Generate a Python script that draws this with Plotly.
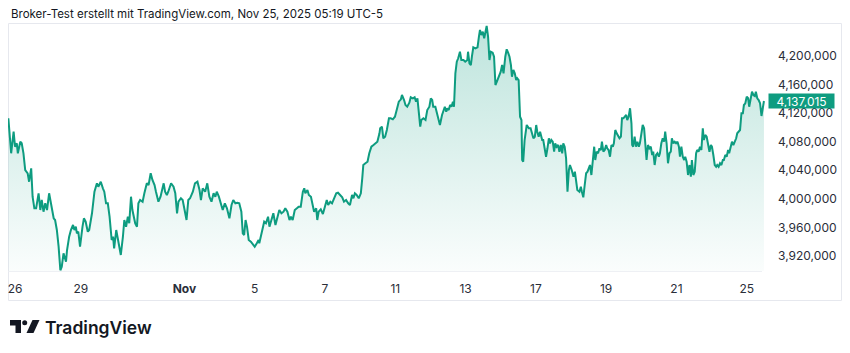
import plotly.graph_objects as go

# ---- data (x: trading days relative to Mon Nov 3 session, y: price in thousands) ----
t_days = [
    -5.01, -4.93, -4.86, -4.82, -4.77, -4.74, -4.67, -4.63, -4.58, -4.53,
    -4.46, -4.42, -4.36, -4.32, -4.27, -4.22, -4.15, -4.10, -4.06, -4.01,
    -3.96, -3.91, -3.85, -3.77, -3.72, -3.68, -3.63, -3.58, -3.53, -3.49,
    -3.44, -3.37, -3.34, -3.28, -3.23, -3.17, -3.13, -3.09, -3.06, -3.02,
    -2.97, -2.90, -2.86, -2.81, -2.75, -2.71, -2.63, -2.56, -2.49, -2.45,
    -2.38, -2.32, -2.28, -2.23, -2.18, -2.13, -2.07, -2.03, -2.00, -1.94,
    -1.89, -1.81, -1.75, -1.71, -1.66, -1.61, -1.57, -1.52, -1.48, -1.40,
    -1.35, -1.31, -1.26, -1.19, -1.14, -1.07, -1.02, -0.96, -0.91, -0.85,
    -0.81, -0.74, -0.68, -0.64, -0.59, -0.55, -0.50, -0.46, -0.38, -0.31,
    -0.26, -0.21, -0.17, -0.10, -0.05, 0.06, 0.11, 0.16, 0.24,
    0.30, 0.37, 0.43, 0.47, 0.52, 0.59, 0.65, 0.71, 0.77, 0.83, 0.88, 0.92, 0.98,
    1.04, 1.09, 1.15, 1.21, 1.28, 1.34, 1.39, 1.45, 1.51, 1.56, 1.62, 1.66, 1.70, 1.74, 1.78, 1.83, 1.89, 1.95,
    2.00, 2.06, 2.11, 2.13, 2.19, 2.23, 2.27, 2.32, 2.38, 2.42, 2.48, 2.53, 2.59, 2.65, 2.70, 2.76, 2.82, 2.87, 2.93, 2.99,
    3.03, 3.08, 3.14, 3.20, 3.25, 3.31, 3.37, 3.41, 3.44, 3.50, 3.54, 3.60, 3.63, 3.69, 3.75, 3.78, 3.82, 3.88, 3.94, 3.99,
    4.05, 4.09, 4.15, 4.20, 4.26, 4.32, 4.37, 4.43, 4.49, 4.54, 4.60, 4.66, 4.71, 4.77, 4.81, 4.85, 4.90, 4.96,
    5.02, 5.06, 5.09, 5.15, 5.21, 5.26, 5.32, 5.38, 5.43, 5.49, 5.55,
    5.57, 5.62, 5.66, 5.71, 5.76, 5.82, 5.87, 5.93, 5.99,
    6.04, 6.10, 6.16, 6.19, 6.25, 6.29, 6.34, 6.40, 6.44, 6.50, 6.55, 6.59, 6.63, 6.67, 6.71, 6.74, 6.80, 6.86, 6.91, 6.97,
    7.01, 7.05, 7.08, 7.14, 7.18, 7.24, 7.27, 7.33, 7.37, 7.41, 7.45, 7.48, 7.52, 7.56, 7.60, 7.64, 7.67, 7.71, 7.75, 7.79, 7.84, 7.88, 7.94, 7.99,
    8.05, 8.07, 8.11, 8.15, 8.18, 8.22, 8.28, 8.34, 8.38, 8.41, 8.45, 8.49, 8.53, 8.56, 8.60, 8.64, 8.68, 8.72, 8.77, 8.81, 8.85, 8.89, 8.94,
    9.00, 9.04, 9.08, 9.13, 9.17, 9.21, 9.25, 9.29, 9.32, 9.36, 9.40, 9.44, 9.47, 9.51, 9.55, 9.59, 9.61, 9.64, 9.68, 9.74, 9.80, 9.85, 9.89, 9.93, 9.97,
    10.01, 10.04, 10.08, 10.12, 10.18, 10.21, 10.25, 10.29, 10.33, 10.37, 10.40, 10.44, 10.48, 10.52, 10.55, 10.59, 10.63, 10.67, 10.71, 10.75, 10.78, 10.82, 10.86, 10.90, 10.94, 10.97,
    11.02, 11.07, 11.11, 11.14, 11.18, 11.24, 11.28, 11.31, 11.35, 11.39, 11.43, 11.47, 11.50, 11.54, 11.58, 11.62, 11.66, 11.69, 11.73, 11.77, 11.81, 11.85, 11.88, 11.92, 11.96,
    12.00, 12.03, 12.07, 12.11, 12.15, 12.19, 12.22, 12.26, 12.30, 12.34, 12.38, 12.42, 12.45, 12.49, 12.53, 12.57, 12.60, 12.64, 12.68, 12.72, 12.74, 12.77, 12.81, 12.85, 12.89, 12.93, 12.96,
    13.00, 13.04, 13.08, 13.11, 13.15, 13.19, 13.23, 13.27, 13.31, 13.34, 13.38, 13.42, 13.46, 13.50, 13.53, 13.57, 13.61, 13.65, 13.68, 13.72, 13.76, 13.80, 13.84, 13.87, 13.91, 13.95, 13.99,
    14.03, 14.07, 14.10, 14.14, 14.18, 14.22, 14.25, 14.29, 14.33, 14.37, 14.41, 14.44, 14.48, 14.52, 14.56, 14.59, 14.63, 14.67, 14.71, 14.75, 14.78, 14.82, 14.86, 14.90, 14.94, 14.98,
    15.01, 15.05, 15.09, 15.13, 15.16, 15.20, 15.24, 15.28, 15.32, 15.35, 15.39, 15.43, 15.47, 15.50, 15.54, 15.58, 15.62, 15.66, 15.70, 15.73, 15.77, 15.81, 15.85, 15.89, 15.92, 15.96,
    16.00, 16.04, 16.07, 16.11, 16.15, 16.19, 16.23, 16.26, 16.30, 16.34, 16.38, 16.42, 16.46, 16.49,
]

price_k = [
    4112.8, 4063.8, 4094.0, 4073.0, 4077.8, 4063.8, 4080.0, 4077.8, 4063.8, 4040.4,
    4035.8, 4024.0, 4042.8, 4003.0, 3986.8, 3986.8, 4007.8, 3984.4, 3998.4, 3982.0,
    3993.8, 3984.4, 4007.8, 3984.4, 3972.8, 3970.4, 3956.4, 3933.0, 3900.0, 3905.0,
    3923.8, 3912.0, 3928.4, 3947.0, 3956.4, 3963.4, 3956.4, 3961.0, 3951.8, 3954.0,
    3933.0, 3961.0, 3972.8, 3968.0, 3954.0, 3956.4, 3979.8, 4010.0, 4021.8, 4017.0,
    4024.0, 4014.8, 4010.0, 3993.8, 3993.8, 3975.0, 3942.4, 3947.0, 3930.8, 3956.4,
    3944.8, 3921.4, 3947.0, 3970.4, 3961.0, 3975.0, 3965.8, 4003.0, 3984.4, 3965.8,
    3961.0, 3993.8, 3998.4, 3996.0, 4007.8, 4021.8, 4019.4, 4035.8, 4026.4, 4019.4,
    4010.0, 3996.0, 4003.0, 4010.0, 4021.8, 4010.0, 4005.4, 4010.0, 4021.8, 4017.0,
    4007.8, 3979.8, 3996.0, 4000.8, 3998.4, 3970.4, 3998.4, 4000.8, 4010.0,
    4021.8, 4024.0, 4012.4, 3998.4, 4014.8, 4010.0, 4021.8, 4003.0, 3996.0, 4007.8, 4003.0, 4010.0, 4003.0,
    3991.4, 3984.4, 3993.8, 3986.8, 3972.8, 3991.4, 3998.4, 3993.8, 3994.6, 3993.8, 3982.0, 3951.8, 3949.4, 3970.4, 3961.0, 3942.4, 3940.0, 3935.4,
    3933.0, 3937.8, 3942.4, 3937.8, 3951.8, 3961.0, 3968.0, 3965.8, 3975.0, 3961.0, 3970.4, 3979.8, 3963.4, 3976.0, 3984.4, 3979.8, 3982.0, 3986.8, 3982.0, 3970.4,
    3975.0, 3970.4, 3984.4, 3986.8, 3989.0, 3989.0, 4010.0, 4014.8, 4007.8, 4012.4, 4005.4, 4003.0, 3996.0, 3982.0, 3986.8, 3970.4, 3982.0, 3985.4, 3978.8, 3989.0,
    3998.4, 3991.4, 3996.0, 3993.8, 4000.8, 4007.8, 4008.6, 4005.4, 4002.2, 3996.0, 3998.4, 3993.8, 3991.4, 4005.4, 4000.8, 4007.8, 4005.4, 4000.8,
    4007.8, 4028.8, 4047.4, 4049.8, 4052.0, 4063.8, 4073.0, 4075.4, 4077.8, 4080.0, 4091.8,
    4098.8, 4101.0, 4084.8, 4087.0, 4096.4, 4112.8, 4112.8, 4111.4, 4115.0,
    4124.4, 4136.0, 4139.4, 4145.4, 4138.4, 4131.4, 4129.0, 4134.6, 4142.2, 4140.8, 4142.2, 4136.0, 4140.8, 4124.4, 4101.0, 4110.4, 4112.8, 4110.4, 4124.4, 4129.0,
    4140.8, 4138.4, 4129.0, 4129.0, 4119.8, 4110.4, 4103.4, 4117.4, 4124.4, 4129.0, 4122.0, 4126.8, 4124.4, 4131.4, 4129.0, 4136.0, 4129.0, 4175.8, 4192.0, 4196.8, 4206.0, 4194.4, 4194.4, 4192.0,
    4194.4, 4206.0, 4189.8, 4187.4, 4199.0, 4212.2, 4210.8, 4212.2, 4227.0, 4236.4, 4229.4, 4234.0, 4224.8, 4231.8, 4242.0, 4227.0, 4194.4, 4206.0, 4204.6, 4199.0, 4159.4, 4164.0, 4171.0,
    4178.0, 4187.4, 4175.8, 4199.0, 4209.4, 4204.6, 4199.0, 4187.4, 4171.0, 4180.4, 4175.8, 4166.4, 4168.8, 4166.4, 4115.0, 4110.4, 4054.4, 4052.0, 4082.4, 4103.4, 4098.8, 4098.8, 4091.8, 4084.8, 4087.0,
    4103.4, 4094.0, 4087.0, 4094.0, 4082.4, 4082.4, 4073.0, 4059.0, 4070.8, 4084.8, 4077.8, 4082.4, 4080.0, 4066.0, 4077.8, 4073.0, 4075.4, 4066.0, 4075.4, 4063.8, 4077.8, 4073.0, 4056.8, 4010.0, 4040.4, 4047.4,
    4040.4, 4031.0, 4038.0, 4024.0, 4012.4, 4010.0, 4017.0, 4010.0, 4002.2, 4019.4, 4035.8, 4038.0, 4042.8, 4047.4, 4033.4, 4054.4, 4073.0, 4054.4, 4066.0, 4063.8, 4070.8, 4068.4, 4080.0, 4066.0, 4068.4,
    4075.4, 4070.8, 4068.4, 4059.0, 4075.4, 4073.0, 4077.8, 4096.4, 4091.8, 4087.0, 4084.8, 4087.0, 4112.8, 4112.8, 4115.0, 4117.4, 4110.4, 4115.0, 4126.8, 4105.8, 4075.4, 4073.0, 4087.0, 4073.0, 4080.0, 4073.0, 4077.8,
    4094.0, 4103.4, 4098.8, 4073.0, 4054.4, 4075.4, 4070.8, 4073.0, 4061.4, 4066.0, 4047.4, 4061.4, 4063.8, 4059.0, 4063.8, 4077.8, 4084.8, 4080.0, 4094.0, 4077.8, 4049.8, 4063.8, 4066.0, 4084.8, 4077.8, 4080.0, 4077.8,
    4080.0, 4073.0, 4059.0, 4073.0, 4059.0, 4054.4, 4059.0, 4052.0, 4033.4, 4047.4, 4031.0, 4054.4, 4033.4, 4038.0, 4063.8, 4068.4, 4066.0, 4073.0, 4068.4, 4098.8, 4082.4, 4089.4, 4087.0, 4073.0, 4066.0, 4075.4,
    4073.0, 4061.4, 4047.4, 4045.0, 4047.4, 4045.0, 4049.8, 4047.4, 4054.4, 4054.4, 4061.4, 4059.0, 4068.4, 4063.8, 4073.0, 4080.0, 4075.4, 4080.0, 4084.8, 4091.8, 4094.0, 4096.4, 4119.8, 4119.8, 4131.4, 4133.8,
    4143.0, 4140.8, 4129.0, 4138.4, 4150.0, 4145.4, 4144.0, 4150.0, 4140.8, 4138.4, 4133.8, 4116.0, 4131.4, 4137.015,
]

x_tick_pos = [-4.82, -2.95, 0, 2, 4, 6, 8, 10, 12, 14, 16]
x_tick_text = ["26", "29", "<b>Nov</b>", "5", "7", "11", "13", "17", "19", "21", "25"]
y_tick_vals = [3920000, 3960000, 4000000, 4040000, 4080000, 4120000, 4160000, 4200000]

title_text = "Broker-Test erstellt mit TradingView.com, Nov 25, 2025 05:19 UTC-5"

assert len(t_days) == len(price_k)
price = [v * 1000 for v in price_k]
last_price = price[-1]

# ---- styling ----
W, H = 850, 353
PL, PR, PT, PB = 8, 765, 24, 271  # plot area in px
GREEN = "#0e9c80"
TEXT = "#131722"
AXIS_TEXT = "#2a2e39"
FONT = "Inter, Roboto, sans-serif"


def fmt(v):
    return f"{int(round(v)):,}"


def px_x(p):
    return (p - PL) / (PR - PL)


def px_y(p):
    return (PB - p) / (PB - PT)


y_lo, y_hi = 3899000, 4244800
x_lo, x_hi = -5.02, 16.52

fig = go.Figure()
fig.add_trace(go.Scatter(
    x=t_days, y=price, mode="lines",
    line=dict(color=GREEN, width=2),
    fill="tozeroy",
    fillgradient=dict(type="vertical",
                      colorscale=[[0, "rgba(14,156,128,0.02)"], [1, "rgba(14,156,128,0.27)"]],
                      start=y_lo, stop=max(price)),
    hoverinfo="skip", showlegend=False,
))

shapes = [
    # outer panel border
    dict(type="rect", xref="paper", yref="paper",
         x0=px_x(8.5), x1=px_x(841.5), y0=px_y(23.5), y1=px_y(300.5),
         line=dict(color="#e6e8ee", width=1), fillcolor="rgba(0,0,0,0)", layer="below"),
    # time-axis separator
    dict(type="line", xref="paper", yref="paper",
         x0=px_x(8.5), x1=px_x(762), y0=px_y(271.5), y1=px_y(271.5),
         line=dict(color="#eef0f4", width=1)),
    # TradingView logo pieces
    dict(type="path", xref="paper", yref="paper",
         path=f"M {px_x(10)},{px_y(320)} L {px_x(21)},{px_y(320)} L {px_x(21)},{px_y(333)} "
              f"L {px_x(15.5)},{px_y(333)} L {px_x(15.5)},{px_y(325.5)} L {px_x(10)},{px_y(325.5)} Z",
         fillcolor=TEXT, line=dict(width=0)),
    dict(type="circle", xref="paper", yref="paper",
         x0=px_x(22.2), x1=px_x(27.2), y0=px_y(325.3), y1=px_y(320.3),
         fillcolor=TEXT, line=dict(width=0)),
    dict(type="path", xref="paper", yref="paper",
         path=f"M {px_x(32.5)},{px_y(320)} L {px_x(39.5)},{px_y(320)} L {px_x(33.5)},{px_y(333)} "
              f"L {px_x(26.5)},{px_y(333)} Z",
         fillcolor=TEXT, line=dict(width=0)),
]

annotations = [
    dict(text=title_text, xref="paper", yref="paper", x=px_x(8.5), y=px_y(14),
         xanchor="left", yanchor="middle", showarrow=False,
         font=dict(family=FONT, size=11.5, color=TEXT)),
    dict(text="TradingView", xref="paper", yref="paper", x=px_x(42.5), y=px_y(327),
         xanchor="left", yanchor="middle", showarrow=False,
         font=dict(family=FONT, size=17.5, color=TEXT, weight=600)),
    dict(text=fmt(last_price), xref="paper", yref="y", x=px_x(768), y=last_price,
         xanchor="left", yanchor="middle", showarrow=False,
         bgcolor=GREEN, borderpad=1, width=63, height=12,
         font=dict(family=FONT, size=12, color="white")),
]

fig.update_layout(
    width=W, height=H,
    margin=dict(l=PL, r=W - PR, t=PT, b=H - PB, pad=0),
    paper_bgcolor="white", plot_bgcolor="white",
    shapes=shapes, annotations=annotations,
    xaxis=dict(range=[x_lo, x_hi], showgrid=False, zeroline=False, showline=False,
               tickmode="array", tickvals=x_tick_pos, ticktext=x_tick_text,
               ticks="", ticklabelstandoff=9,
               tickfont=dict(family=FONT, size=12, color=AXIS_TEXT)),
    yaxis=dict(range=[y_lo, y_hi], side="right", showgrid=False, zeroline=False, showline=False,
               tickmode="array", tickvals=y_tick_vals, ticktext=[fmt(v) for v in y_tick_vals],
               ticks="", ticklabelstandoff=12,
               tickfont=dict(family=FONT, size=12, color=AXIS_TEXT)),
)

fig.write_html("out.html")
